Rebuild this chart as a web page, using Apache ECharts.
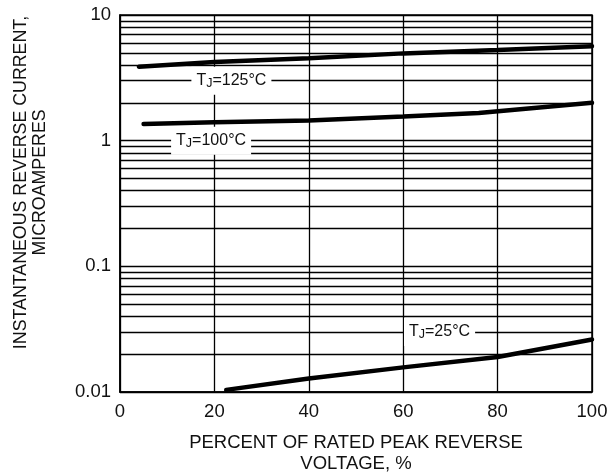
<!DOCTYPE html>
<html><head><meta charset="utf-8">
<script src="https://cdn.jsdelivr.net/npm/echarts@6/dist/echarts.min.js"></script>
<style>html,body{margin:0;padding:0;background:#fff}#c{width:611px;height:474px}</style>
</head><body><div id="c"></div>
<script>
var xTicks = [0, 20, 40, 60, 80, 100];
var yTicks = [0.01, 0.1, 1, 10];
var minorGrid = [0.02,0.03,0.04,0.05,0.06,0.07,0.08,0.09,0.2,0.3,0.4,0.5,0.6,0.7,0.8,0.9,2,3,4,5,6,7,8,9];
var x125 = [4, 20, 40, 60, 80, 100];
var y125 = [3.88, 4.22, 4.52, 4.95, 5.27, 5.65];
var x100 = [5, 20, 40, 60, 76, 100];
var y100 = [1.36, 1.40, 1.45, 1.56, 1.66, 2.0];
var x25 = [22.5, 40, 60, 80, 100];
var y25 = [0.0104, 0.0128, 0.0157, 0.019, 0.0262];
var labelNames = ['125', '100', '25'];
var labelX = [23.6, 19.3, 67.7];
var labelY = [3, 1, 0.03];

function pairs(xs, ys){ return xs.map(function(x,i){return [x, ys[i]];}); }
var FONT = '"Liberation Sans", Arial, sans-serif';
var rich = {
  t: {fontFamily: FONT, fontSize: 16, color: '#111', lineHeight: 20, verticalAlign: 'middle'},
  s: {fontFamily: FONT, fontSize: 12.5, color: '#111', lineHeight: 20, padding: [6,0,0,0], verticalAlign: 'middle'}
};
var chart = echarts.init(document.getElementById('c'), null, {renderer: 'canvas'});
var lineStyle = {color: '#000', width: 4.5, cap: 'round'};
chart.setOption({
  animation: false,
  backgroundColor: '#fff',
  grid: {left: 120, right: 19, top: 15, bottom: 82, containLabel: false, outerBoundsMode: 'none',
    show: true, borderColor: '#000', borderWidth: 1.5},
  xAxis: {
    type: 'value', min: 0, max: 100, interval: 20,
    name: 'PERCENT OF RATED PEAK REVERSE\nVOLTAGE, %', nameLocation: 'middle', nameGap: 40,
    nameTextStyle: {fontFamily: FONT, fontSize: 18.5, color: '#111', lineHeight: 21},
    axisLine: {lineStyle: {color: '#000', width: 1.5}},
    axisTick: {show: false},
    axisLabel: {fontFamily: FONT, fontSize: 18.5, color: '#111', margin: 10},
    splitLine: {show: true, lineStyle: {color: '#000', width: 1.3}}
  },
  yAxis: {
    type: 'log', logBase: 10, min: yTicks[0], max: yTicks[yTicks.length-1],
    name: 'INSTANTANEOUS REVERSE CURRENT,\nMICROAMPERES', nameLocation: 'middle', nameGap: 71,
    nameTextStyle: {fontFamily: FONT, fontSize: 17.8, color: '#111', lineHeight: 18.5, padding: [0,0,0,42]},
    axisLine: {lineStyle: {color: '#000', width: 1.5}},
    axisTick: {show: false},
    axisLabel: {fontFamily: FONT, fontSize: 18.5, color: '#111', margin: 9,
      formatter: function(v){ return String(+v.toPrecision(3)); }},
    splitLine: {show: true, lineStyle: {color: '#000', width: 1.3}}
  },
  series: [
    {type: 'line', data: [], silent: true,
     markLine: {silent: true, symbol: 'none', animation: false, label: {show: false},
       lineStyle: {color: '#000', width: 1.3, type: 'solid'},
       data: minorGrid.map(function(v){return {yAxis: v};})}},
    {type: 'line', data: pairs(x125, y125), showSymbol: false, symbol: 'none', lineStyle: lineStyle, z: 5},
    {type: 'line', data: pairs(x100, y100), showSymbol: false, symbol: 'none', lineStyle: lineStyle, z: 5},
    {type: 'line', data: pairs(x25, y25), showSymbol: false, symbol: 'none', lineStyle: lineStyle, z: 5},
    {type: 'line', data: [], silent: true, z: 10,
     markPoint: {symbol: 'rect', symbolSize: 1, itemStyle: {color: 'rgba(0,0,0,0)'}, animation: false,
       data: labelNames.map(function(n, i){
         return {coord: [labelX[i], labelY[i]],
           label: {show: true, position: 'inside', backgroundColor: '#fff', padding: [4,5,4,5],
             formatter: '{t|T}{s|J}{t|=' + n + '°C}', rich: rich}};
       })}}
  ]
});
</script></body></html>
